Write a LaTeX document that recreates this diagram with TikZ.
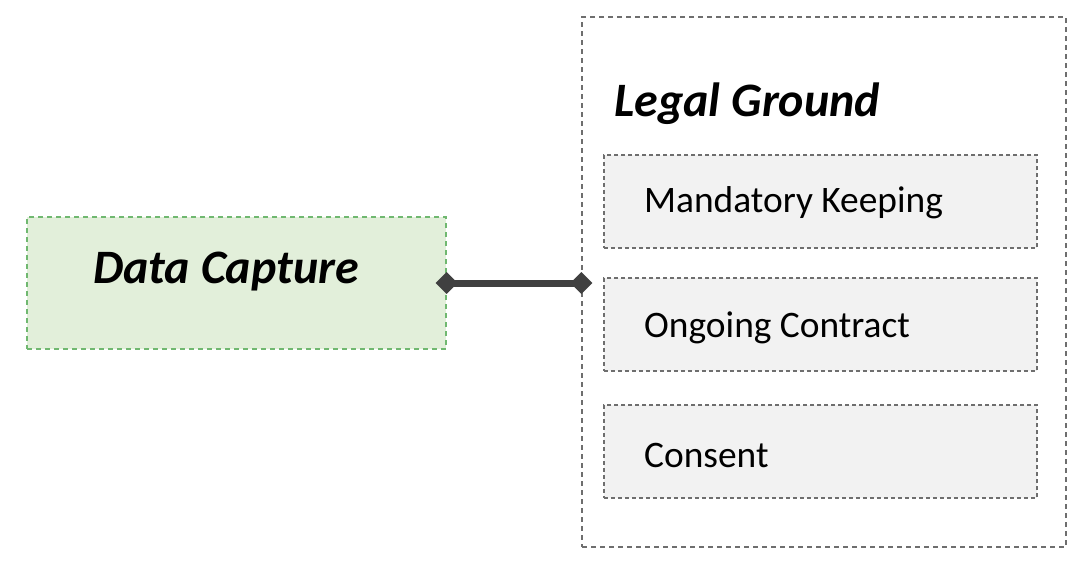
\documentclass[tikz,border=0pt]{standalone}
\usepackage{fontspec}
\setmainfont{Carlito}
\usetikzlibrary{arrows.meta,calc}
\definecolor{dcfill}{HTML}{E2EFDA}
\definecolor{dcline}{HTML}{70B870}
\definecolor{boxfill}{HTML}{F2F2F2}
\definecolor{boxline}{HTML}{6E6E6E}
\definecolor{conn}{HTML}{404040}
\tikzset{
  dcbox/.style={draw=dcline, fill=dcfill, line width=1.3pt, dash pattern=on 5pt off 4pt, minimum width=419pt, minimum height=132pt, inner sep=0pt},
  outerbox/.style={draw=boxline, line width=1.2pt, dash pattern=on 5pt off 4pt, minimum width=484pt, minimum height=530pt, inner sep=0pt},
  itembox/.style={draw=boxline, fill=boxfill, line width=1.2pt, dash pattern=on 4pt off 3pt, minimum width=433pt, minimum height=93pt, inner sep=0pt},
  headtxt/.style={font=\fontsize{48}{56}\selectfont\bfseries\itshape, anchor=west, inner sep=0pt},
  itemtxt/.style={font=\fontsize{37.4}{44}\selectfont, anchor=west, inner sep=0pt},
  connector/.style={draw=conn, line width=7pt, {Diamond[length=22pt,width=22pt]}-{Diamond[length=22pt,width=22pt]}, shorten <=-11pt, shorten >=-11pt}
}
\begin{document}
\begin{tikzpicture}[x=1pt,y=1pt]
\useasboundingbox (0,0) rectangle (1086,-574);
\node[dcbox] (dc) at (236.5,-283) {};
\node[headtxt] (dct) at (93,-272) {Data Capture};
\node[outerbox] (lg) at (824,-282) {};
\node[headtxt] (lgt) at (614,-104) {Legal Ground};
\node[itembox] (b1) at (820.5,-201.5) {};
\node[itembox] (b2) at (820.5,-324.5) {};
\node[itembox] (b3) at (820.5,-451.5) {};
\node[itemtxt] (t1) at (644,-203) {Mandatory Keeping};
\node[itemtxt] (t2) at (644,-328) {Ongoing Contract};
\node[itemtxt] (t3) at (644,-455) {Consent};
\draw[connector] (dc.east) -- (dc.east -| lg.west);
\end{tikzpicture}
\end{document}
